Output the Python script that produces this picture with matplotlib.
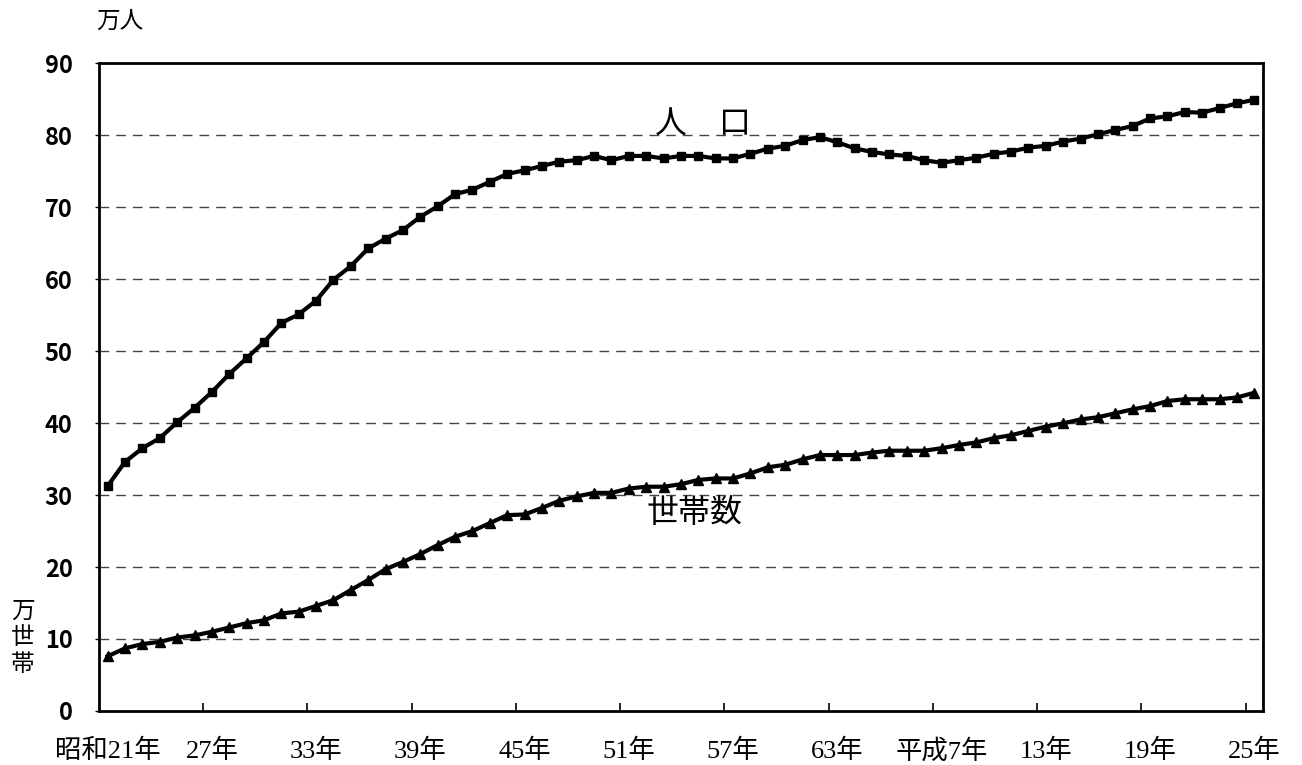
import numpy as np
import matplotlib.pyplot as plt

plt.rcParams['font.family'] = ['Noto Sans CJK JP', 'DejaVu Sans']

# 昭和21年 - 平成25年 (67 categories, labels every 6th)
xlabels = ['昭和21年', '27年', '33年', '39年', '45年', '51年', '57年', '63年',
           '平成7年', '13年', '19年', '25年']

# 人口 (万人)
population = [31.25, 34.6, 36.5, 37.9, 40.1, 42.1, 44.3, 46.8, 49.0, 51.25,
              53.9, 55.1, 57.0, 59.9, 61.8, 64.25, 65.6, 66.8, 68.65, 70.1,
              71.8, 72.4, 73.5, 74.6, 75.1, 75.7, 76.3, 76.5, 77.1, 76.5,
              77.1, 77.1, 76.75, 77.1, 77.1, 76.75, 76.75, 77.4, 78.1, 78.5,
              79.3, 79.7, 79.0, 78.15, 77.65, 77.3, 77.1, 76.5, 76.15, 76.5,
              76.85, 77.4, 77.7, 78.25, 78.5, 79.1, 79.5, 80.1, 80.7, 81.25,
              82.3, 82.6, 83.2, 83.1, 83.75, 84.4, 84.9]

# 世帯数 (万世帯)
households = [7.6, 8.7, 9.3, 9.6, 10.2, 10.5, 11.0, 11.6, 12.2, 12.6,
              13.55, 13.8, 14.6, 15.4, 16.8, 18.2, 19.7, 20.7, 21.8, 23.05,
              24.2, 25.0, 26.1, 27.2, 27.3, 28.2, 29.2, 29.8, 30.3, 30.3,
              30.9, 31.15, 31.15, 31.5, 32.1, 32.3, 32.3, 33.0, 33.85, 34.2,
              34.95, 35.55, 35.55, 35.55, 35.9, 36.15, 36.15, 36.15, 36.5, 36.95,
              37.3, 37.9, 38.3, 38.9, 39.5, 39.95, 40.5, 40.8, 41.35, 41.9,
              42.35, 43.05, 43.3, 43.3, 43.3, 43.55, 44.2]

x = np.arange(len(population))

fig = plt.figure(figsize=(13.02, 7.65), dpi=100)
ax = fig.add_axes([0.076, 0.0706, 0.894, 0.847])

ax.plot(x, population, color='black', linewidth=3, marker='s', markersize=6)
ax.plot(x, households, color='black', linewidth=3, marker='^', markersize=7)

ax.set_xlim(-0.5, len(x) - 0.5)
ax.set_ylim(0, 90)
ax.set_yticks(range(0, 91, 10))
ax.tick_params(axis='y', direction='out', length=3, width=1, labelsize=17, pad=16)
for lbl in ax.get_yticklabels():
    lbl.set_fontweight('bold')

# tick marks at category boundaries, labels on every 6th category
ax.set_xticks(np.arange(5.5, len(x), 6))
ax.set_xticklabels([])
ax.tick_params(axis='x', which='major', direction='in', length=6, width=1.2)
ax.set_xticks(np.arange(0, len(x), 6), minor=True)
ax.set_xticklabels(xlabels, minor=True, family=['Liberation Serif', 'Noto Sans CJK JP'])
ax.tick_params(axis='x', which='minor', length=0, labelsize=19, pad=20)

for v in range(10, 90, 10):
    ax.axhline(v, color='#444444', linewidth=1, linestyle=(0, (7, 5)), zorder=0)

for s in ax.spines.values():
    s.set_linewidth(2)

ax.text(0.519, 0.905, '人　口', transform=ax.transAxes, fontsize=23, ha='center', va='center')
ax.text(0.512, 0.305, '世帯数', transform=ax.transAxes, fontsize=23, ha='center', va='center')

fig.text(120 / 1302, 1 - 21 / 765, '万人', fontsize=17, ha='center', va='center')
fig.text(23 / 1302, 1 - 638 / 765, '万\n世\n帯', fontsize=17, ha='center', va='center',
         linespacing=1.2)

fig.savefig('out.png', dpi=100)
